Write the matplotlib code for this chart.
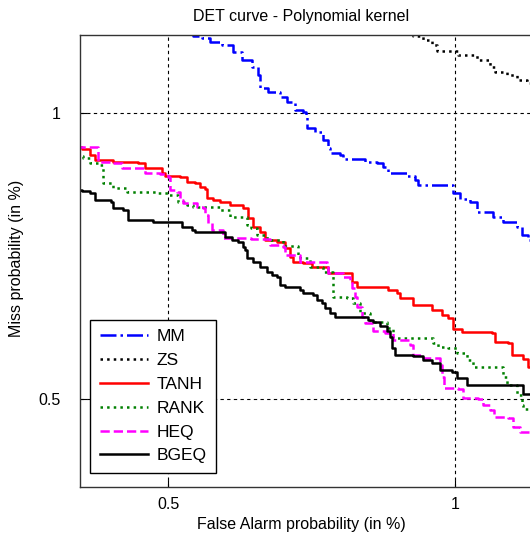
import matplotlib
matplotlib.use("Agg")
import matplotlib.pyplot as plt
from matplotlib.ticker import NullLocator

plt.rcParams["font.family"] = ["Liberation Sans", "DejaVu Sans"]

# DET curves, false alarm / miss probability in %
mm_fa = [0.525, 0.531, 0.543, 0.553, 0.570, 0.585, 0.598, 0.612, 0.621, 0.624, 0.637, 0.655,
         0.666, 0.679, 0.693, 0.698, 0.699, 0.713, 0.727, 0.736, 0.739, 0.758, 0.763, 0.795,
         0.805, 0.828, 0.840, 0.851, 0.891, 0.908, 0.915, 0.988, 0.995, 1.012, 1.037, 1.054,
         1.096, 1.123, 1.161, 1.175, 1.193, 1.23]
mm_miss = [1.22, 1.205, 1.199, 1.188, 1.179, 1.159, 1.137, 1.118, 1.096, 1.062, 1.052, 1.040,
           1.027, 1.007, 1.002, 0.990, 0.964, 0.955, 0.937, 0.919, 0.908, 0.903, 0.895, 0.895,
           0.888, 0.886, 0.877, 0.865, 0.858, 0.850, 0.840, 0.840, 0.824, 0.812, 0.806, 0.787,
           0.777, 0.768, 0.759, 0.744, 0.735, 0.725]

zs_fa = [0.895, 0.904, 0.926, 0.946, 0.957, 0.995, 1.007, 1.054, 1.088, 1.101, 1.134, 1.161,
         1.190, 1.23]
zs_miss = [1.22, 1.205, 1.194, 1.179, 1.162, 1.162, 1.151, 1.137, 1.118, 1.104, 1.096, 1.083,
           1.075, 1.065]

tanh_fa = [0.400, 0.406, 0.414, 0.419, 0.438, 0.465, 0.473, 0.493, 0.496, 0.515, 0.523, 0.534,
           0.540, 0.547, 0.549, 0.557, 0.567, 0.581, 0.599, 0.607, 0.614, 0.624, 0.632, 0.651,
           0.663, 0.671, 0.676, 0.693, 0.708, 0.736, 0.770, 0.780, 0.789, 0.834, 0.851, 0.869,
           0.876, 0.904, 0.946, 0.969, 0.983, 0.995, 1.017, 1.093, 1.101, 1.136, 1.147, 1.178,
           1.193, 1.23]
tanh_miss = [0.920, 0.917, 0.903, 0.892, 0.888, 0.886, 0.875, 0.865, 0.858, 0.856, 0.846, 0.844,
             0.836, 0.832, 0.814, 0.810, 0.806, 0.800, 0.794, 0.775, 0.759, 0.749, 0.735, 0.732,
             0.721, 0.705, 0.697, 0.695, 0.689, 0.679, 0.679, 0.664, 0.656, 0.656, 0.651, 0.646,
             0.639, 0.628, 0.620, 0.613, 0.608, 0.592, 0.588, 0.587, 0.574, 0.573, 0.556, 0.551,
             0.540, 0.535]

rank_fa = [0.400, 0.407, 0.414, 0.424, 0.427, 0.427, 0.438, 0.453, 0.487, 0.500, 0.512, 0.523,
           0.531, 0.549, 0.567, 0.581, 0.605, 0.610, 0.620, 0.635, 0.660, 0.684, 0.684, 0.688,
           0.705, 0.727, 0.745, 0.745, 0.770, 0.782, 0.795, 0.814, 0.834, 0.849, 0.861, 0.926,
           0.948, 0.960, 0.983, 1.005, 1.029, 1.044, 1.101, 1.123, 1.134, 1.161, 1.175, 1.178,
           1.198, 1.23]
rank_miss = [0.900, 0.897, 0.886, 0.882, 0.856, 0.844, 0.834, 0.826, 0.824, 0.820, 0.806, 0.800,
             0.796, 0.796, 0.790, 0.777, 0.762, 0.757, 0.744, 0.735, 0.724, 0.723, 0.709, 0.704,
             0.689, 0.680, 0.666, 0.640, 0.639, 0.631, 0.616, 0.603, 0.603, 0.594, 0.580, 0.580,
             0.573, 0.567, 0.566, 0.559, 0.550, 0.540, 0.540, 0.527, 0.517, 0.505, 0.493, 0.488,
             0.488, 0.488]

heq_fa = [0.400, 0.404, 0.419, 0.422, 0.438, 0.447, 0.462, 0.473, 0.490, 0.500, 0.502, 0.511,
          0.515, 0.518, 0.527, 0.536, 0.544, 0.547, 0.551, 0.556, 0.571, 0.610, 0.640, 0.660,
          0.663, 0.688, 0.710, 0.734, 0.736, 0.763, 0.776, 0.780, 0.785, 0.789, 0.799, 0.805,
          0.820, 0.844, 0.861, 0.897, 0.904, 0.926, 0.953, 0.964, 0.969, 0.974, 1.007, 1.019,
          1.057, 1.070, 1.088, 1.099, 1.136, 1.150, 1.170, 1.198, 1.23]
heq_miss = [0.921, 0.921, 0.921, 0.888, 0.886, 0.875, 0.875, 0.865, 0.863, 0.856, 0.830, 0.826,
            0.810, 0.804, 0.804, 0.796, 0.794, 0.781, 0.766, 0.753, 0.739, 0.737, 0.726, 0.723,
            0.709, 0.697, 0.697, 0.692, 0.679, 0.672, 0.667, 0.654, 0.640, 0.625, 0.610, 0.601,
            0.590, 0.587, 0.577, 0.570, 0.556, 0.552, 0.552, 0.543, 0.527, 0.514, 0.512, 0.501,
            0.500, 0.493, 0.487, 0.479, 0.477, 0.467, 0.462, 0.460, 0.460]

bgeq_fa = [0.400, 0.406, 0.414, 0.419, 0.435, 0.438, 0.448, 0.454, 0.481, 0.482, 0.511, 0.517,
           0.530, 0.534, 0.567, 0.574, 0.584, 0.592, 0.599, 0.602, 0.605, 0.614, 0.624, 0.635,
           0.643, 0.651, 0.655, 0.663, 0.688, 0.693, 0.710, 0.717, 0.725, 0.731, 0.739, 0.748,
           0.795, 0.810, 0.820, 0.834, 0.849, 0.855, 0.859, 0.865, 0.904, 0.926, 0.946, 0.964,
           0.993, 1.005, 1.029, 1.175, 1.178, 1.198, 1.23]
bgeq_miss = [0.830, 0.828, 0.824, 0.810, 0.806, 0.794, 0.790, 0.772, 0.772, 0.768, 0.768, 0.759,
             0.753, 0.749, 0.749, 0.740, 0.735, 0.732, 0.723, 0.717, 0.704, 0.697, 0.689, 0.680,
             0.675, 0.672, 0.659, 0.656, 0.651, 0.646, 0.643, 0.636, 0.631, 0.623, 0.616, 0.610,
             0.610, 0.606, 0.603, 0.597, 0.590, 0.581, 0.566, 0.556, 0.555, 0.550, 0.546, 0.536,
             0.534, 0.526, 0.517, 0.517, 0.506, 0.506, 0.506]

x_ticks = [0.5, 1]
x_tick_labels = ["0.5", "1"]
y_ticks = [0.5, 1]
y_tick_labels = ["0.5", "1"]

fig = plt.figure(figsize=(5.3, 5.38), dpi=100)
ax = fig.add_axes([80 / 530, 51 / 538, 467.4 / 530, 452 / 538])

lw = 1.8
ds = "steps-post"
ax.plot(mm_fa, mm_miss, color="blue", linestyle="-.", lw=lw, drawstyle=ds, label="MM")
ax.plot(zs_fa, zs_miss, color="black", linestyle=":", lw=lw, drawstyle=ds, label="ZS")
ax.plot(tanh_fa, tanh_miss, color="red", linestyle="-", lw=lw, drawstyle=ds, label="TANH")
ax.plot(rank_fa, rank_miss, color="#008000", linestyle=":", lw=lw, drawstyle=ds, label="RANK")
ax.plot(heq_fa, heq_miss, color="magenta", linestyle="--", lw=lw, drawstyle=ds, label="HEQ")
ax.plot(bgeq_fa, bgeq_miss, color="black", linestyle="-", lw=lw, drawstyle=ds, label="BGEQ")

ax.set_xscale("log")
ax.set_yscale("log")
ax.set_xlim(0.404, 1.25)
ax.set_ylim(0.404, 1.208)
ax.xaxis.set_minor_locator(NullLocator())
ax.yaxis.set_minor_locator(NullLocator())
ax.set_xticks(x_ticks)
ax.set_xticklabels(x_tick_labels)
ax.set_yticks(y_ticks)
ax.set_yticklabels(y_tick_labels)
ax.tick_params(direction="in", length=5, labelsize=11.5, colors="black")
ax.tick_params(axis="x", pad=7)
ax.tick_params(axis="y", pad=14)
ax.grid(True, color="black", linestyle=(0, (3, 3)), lw=0.8)
for s in ax.spines.values():
    s.set_linewidth(1.0)
    s.set_color("#333333")

ax.set_xlabel("False Alarm probability (in %)", fontsize=11.5)
ax.xaxis.set_label_coords((301 - 80) / 467.4, (487 - 525) / 452)
ax.xaxis.label.set_va("center")
ax.set_ylabel("Miss probability (in %)", fontsize=11.5)
ax.yaxis.set_label_coords((17 - 80) / 467.4, (487 - 258) / 452)
ax.yaxis.label.set_va("center")
fig.text(301 / 530, 1 - 16 / 538, "DET curve - Polynomial kernel", fontsize=11.5,
         ha="center", va="center")

leg = ax.legend(loc="lower left", bbox_to_anchor=((90 - 80) / 467.4, (487 - 473) / 452),
                fontsize=12.5, fancybox=False, framealpha=1, edgecolor="black",
                handlelength=2.8, borderpad=0.55, labelspacing=0.5, handletextpad=0.5,
                borderaxespad=0)
leg.get_frame().set_linewidth(1.0)

fig.savefig("out.png", dpi=100)
